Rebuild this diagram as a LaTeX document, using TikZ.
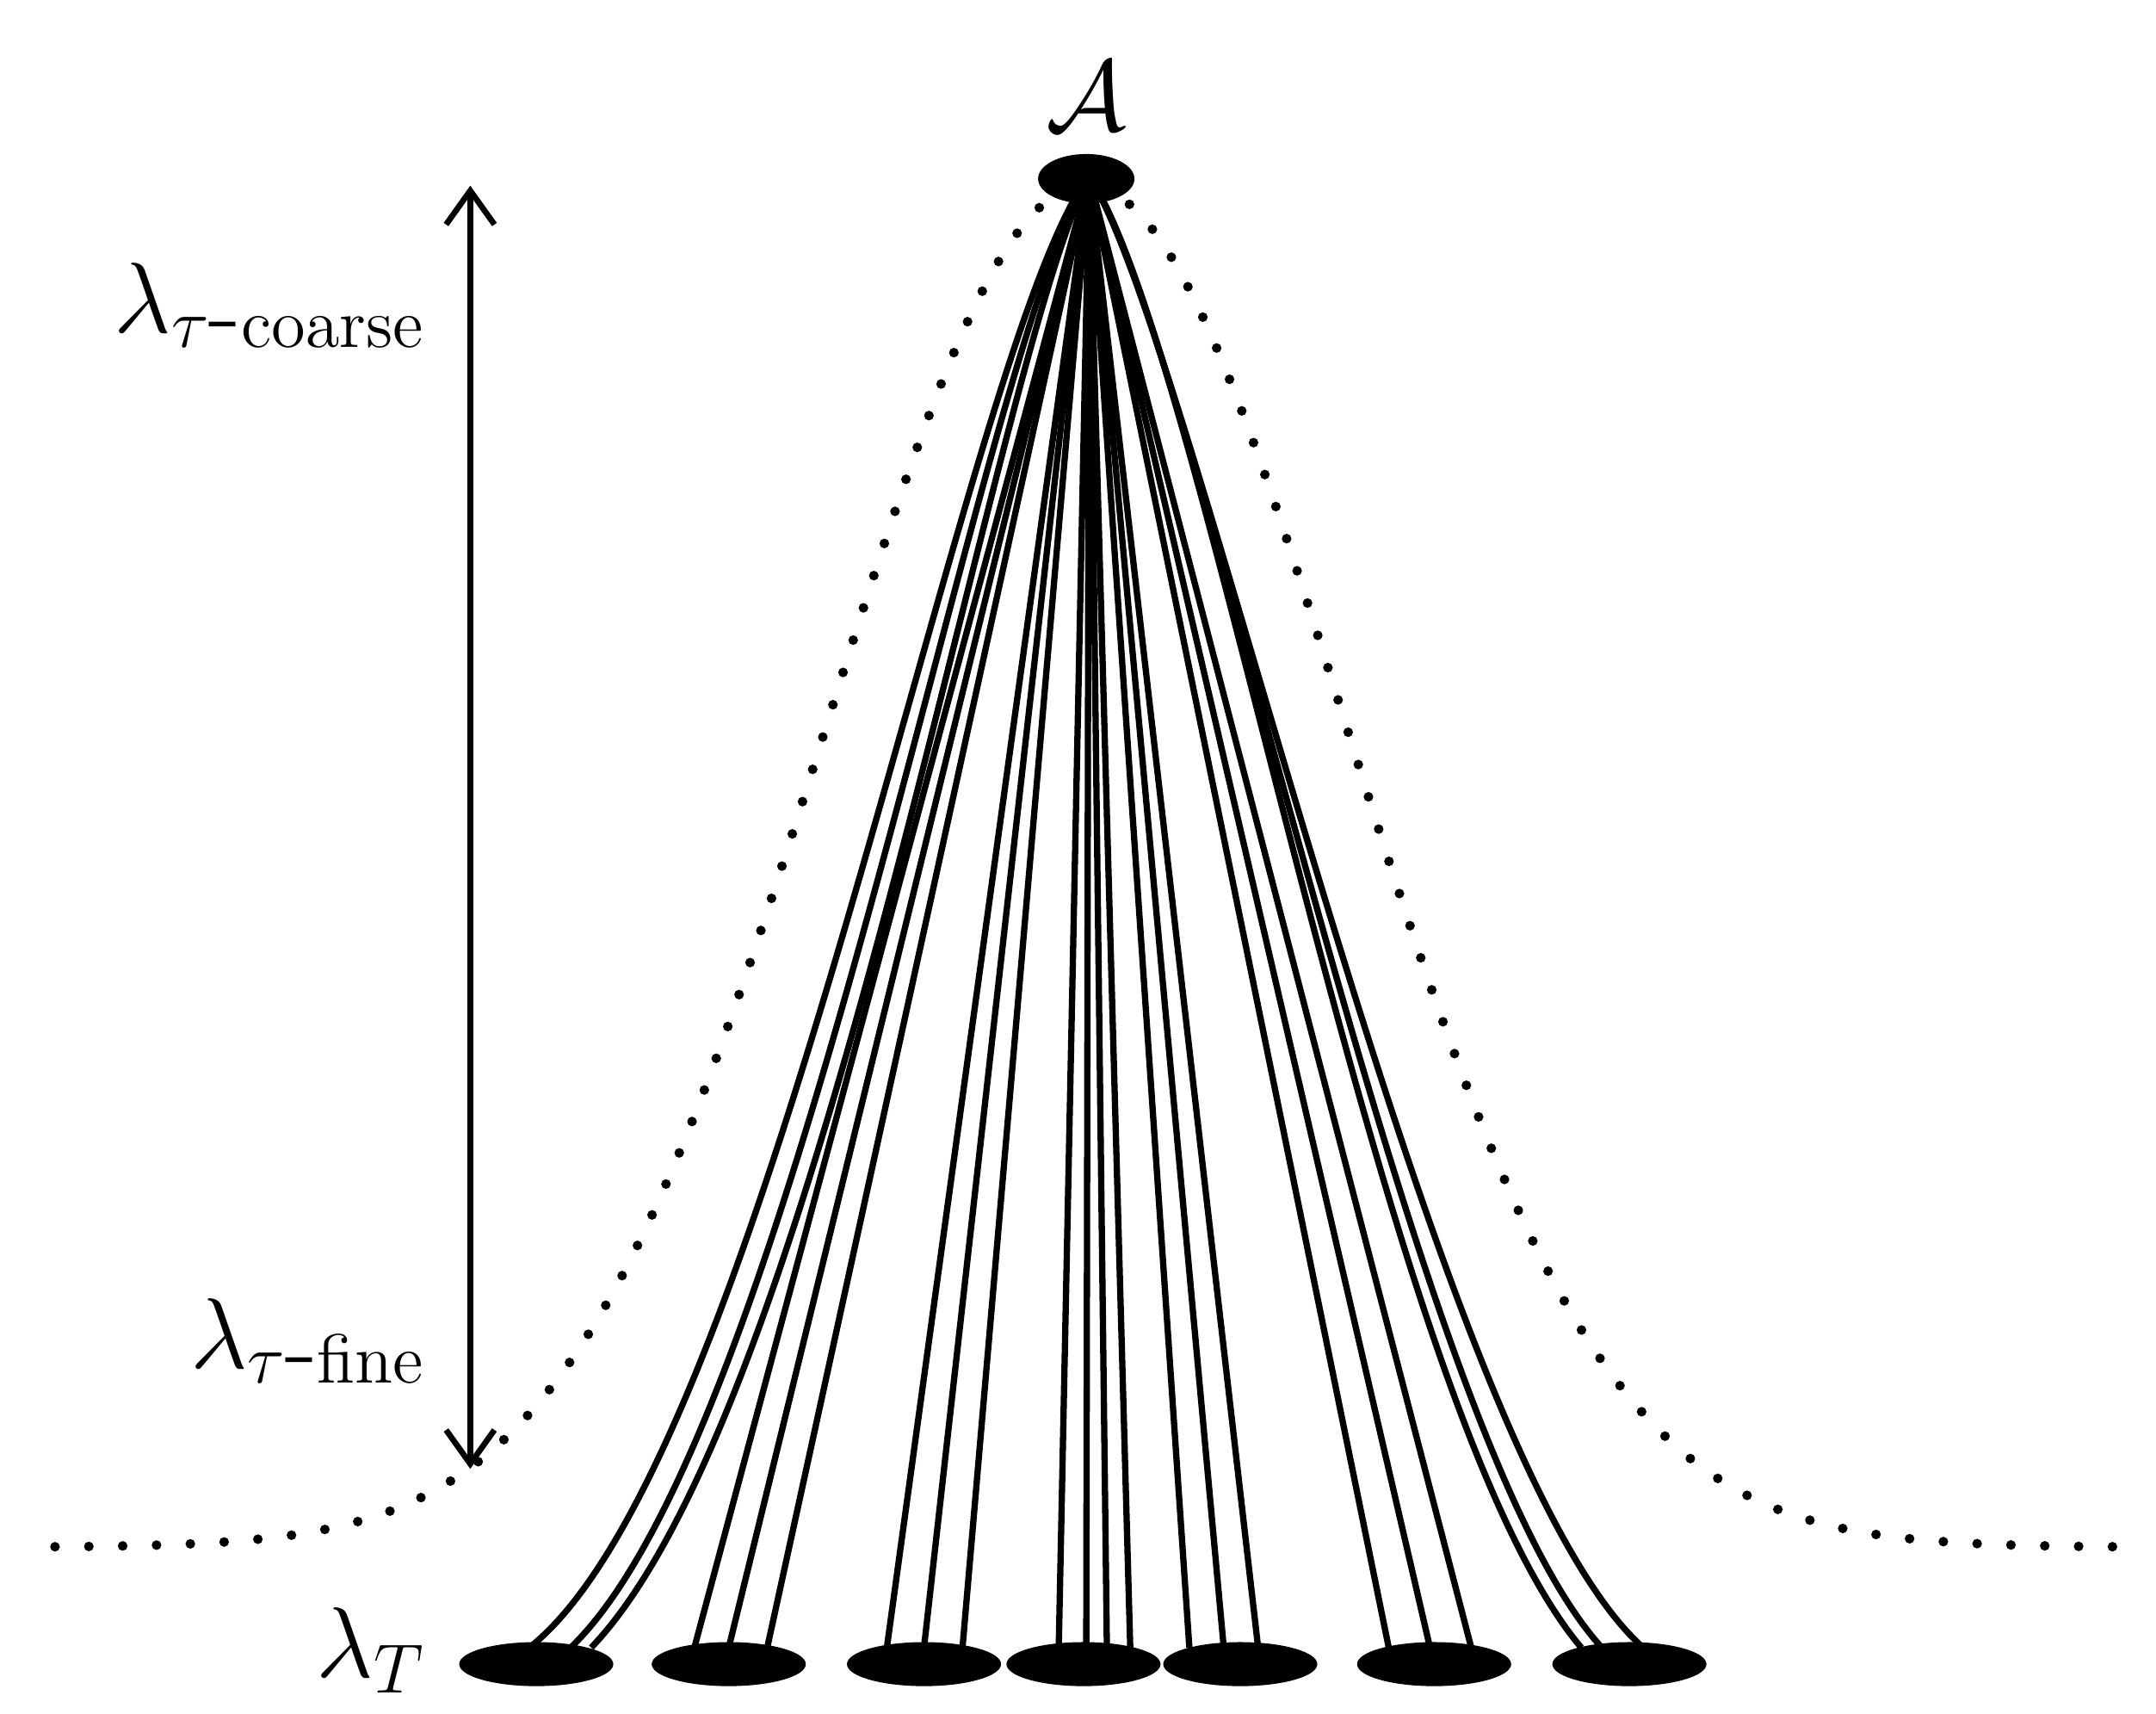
\documentclass[tikz,border=0pt]{standalone}
\usetikzlibrary{arrows.meta,shapes.geometric}
\begin{document}
\begin{tikzpicture}[x=0.01cm,y=-0.01cm,
  blob/.style={ellipse,fill=black,inner sep=0pt,minimum width=1.12cm,minimum height=0.32cm},
  edge/.style={line width=1.3pt},
  lab/.style={font=\fontsize{22}{26}\selectfont}]
\useasboundingbox (0,0) rectangle (1568,1246);
% dotted gaussian
\draw[line width=2pt,line cap=round,dash pattern=on 0pt off 7pt]
  plot[domain=40:1540,samples=200,smooth] (\x,{1125-990*exp(-0.5*((\x-790)/188)^2)});
% apex
\node[blob,minimum width=0.7cm,minimum height=0.36cm] (A) at (790,130) {};
\node[lab] (Alab) at (790,70) {$\mathcal{A}$};
\coordinate (top) at (792,128);
% bottom blobs
\foreach \i/\x in {1/390,2/530,3/672,4/788,5/902,6/1043,7/1185}
  \node[blob] (b\i) at (\x,1210) {};
% curved outer lines
\foreach \e in {385,415,430}
  \coordinate (L\e) at (\e,1198);
\draw[edge] (top) .. controls (700,250) and (560,1060) .. (L385);
\draw[edge] (top) .. controls (710,260) and (580,1040) .. (L415);
\draw[edge] (top) .. controls (720,270) and (600,1020) .. (L430);
\foreach \e in {1150,1165,1195}
  \coordinate (R\e) at (\e,1198);
\draw[edge] (top) .. controls (880,260) and (1000,1020) .. (R1150);
\draw[edge] (top) .. controls (875,255) and (1020,1040) .. (R1165);
\draw[edge] (top) .. controls (870,250) and (1040,1060) .. (R1195);
% straight lines
\foreach \e in {505,530,558,645,672,700,770,790,805,822,865,890,915,1010,1040,1070}{
  \coordinate (S\e) at (\e,1198);
  \draw[edge] (top) -- (S\e);
}
% arrow
\coordinate (ar1) at (342,135);
\coordinate (ar2) at (342,1068);
\draw[line width=1.2pt,{Straight Barb[length=7pt,width=10pt]}-{Straight Barb[length=7pt,width=10pt]}] (ar1) -- (ar2);
% labels
\node[lab,anchor=east] (coarse) at (322,222) {$\lambda_{\tau\mathrm{\mbox{-}coarse}}$};
\node[lab,anchor=east] (fine) at (322,975) {$\lambda_{\tau\mathrm{\mbox{-}fine}}$};
\node[lab,anchor=east] (lT) at (322,1200) {$\lambda_T$};
\end{tikzpicture}
\end{document}
